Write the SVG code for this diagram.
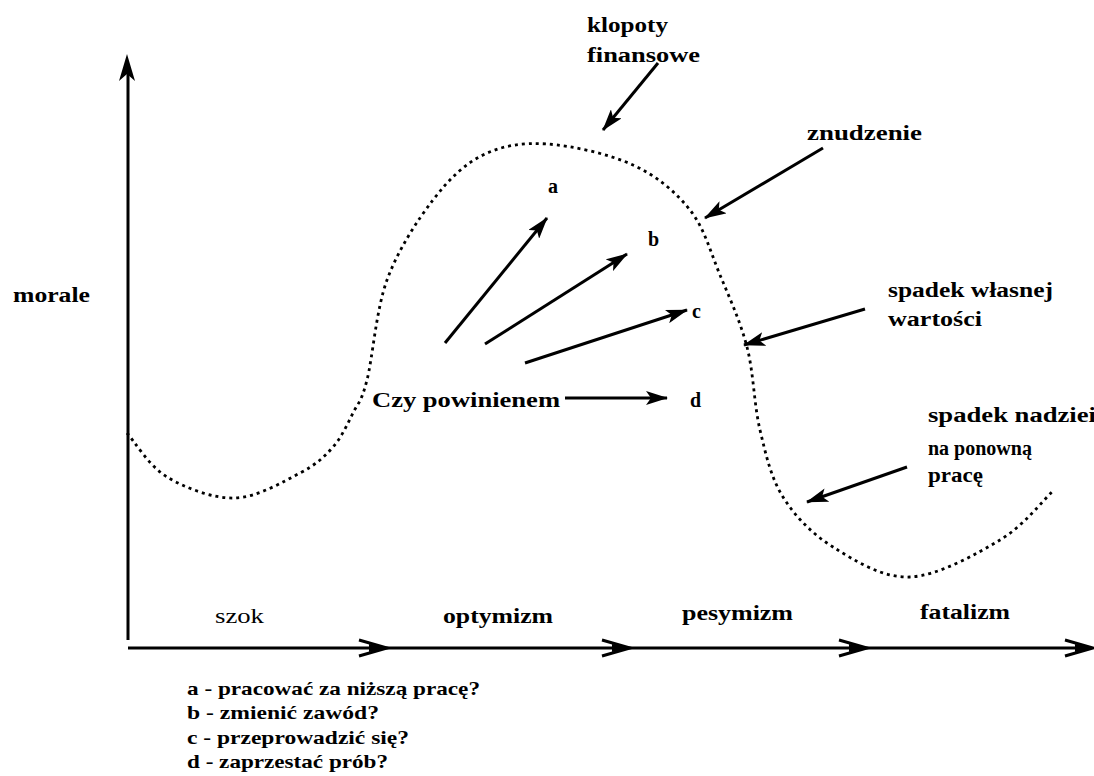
<svg xmlns="http://www.w3.org/2000/svg" width="1094" height="776" viewBox="0 0 1094 776">
<style>
.t{font-family:"Liberation Serif","DejaVu Serif",serif;font-weight:bold;fill:#000;font-size:20px}
.n{font-family:"Liberation Serif","DejaVu Serif",serif;font-weight:normal;fill:#000;font-size:20px}
.lg{font-family:"Liberation Serif","DejaVu Serif",serif;font-weight:bold;fill:#000;font-size:19px}
.ax{stroke:#000;stroke-width:3;fill:none}
.ar{stroke:#000;stroke-width:3;fill:none;marker-end:url(#ah)}
.curve{stroke:#000;stroke-width:2.8;fill:none;stroke-dasharray:3 4}
</style>
<defs>
<marker id="ah" markerUnits="userSpaceOnUse" markerWidth="22" markerHeight="14" refX="21" refY="7" orient="auto">
<path d="M0,0 L22,7 L0,14 L5,7 Z" fill="#000"/>
</marker>
<g id="chev">
<path d="M-28,-8 L0,0 L-28,8" stroke="#000" stroke-width="3" fill="none"/>
<path d="M-18,-4 L0,0 L-18,4 Z" fill="#000"/>
</g>
</defs>
<rect width="1094" height="776" fill="#fff"/>

<g id="axes">
<line class="ax" x1="128" y1="72" x2="128" y2="640" stroke-width="3.5"/>
<path d="M127,54 L135,81 L127,74 L119,81 Z" fill="#000"/>
<line class="ax" x1="128" y1="648" x2="1090" y2="648"/>
<use href="#chev" x="387" y="648"/>
<use href="#chev" x="630" y="648"/>
<use href="#chev" x="867" y="648"/>
<use href="#chev" x="1093" y="648"/>
</g>

<g id="curve">
<path class="curve" d="M127,433 C133.7,440.3 149,466.2 167,477 C185,487.8 212.8,498.7 235,498 C257.2,497.3 283.7,481.5 300,473 C316.3,464.5 324.2,457 333,447 C341.8,437 347.3,424.2 353,413 C358.7,401.8 361.3,402.2 367,380 C372.7,357.8 376,310 387,280 C398,250 417,220.8 433,200 C449,179.2 464,164.3 483,155 C502,145.7 522,142.3 547,144 C572,145.7 609.2,154 633,165 C656.8,176 675.5,191.7 690,210 C704.5,228.3 710.5,252.2 720,275 C729.5,297.8 740.3,321.2 747,347 C753.7,372.8 754,405 760,430 C766,455 770.8,477.5 783,497 C795.2,516.5 811.8,533.7 833,547 C854.2,560.3 882.2,578.2 910,577 C937.8,575.8 976.3,554.2 1000,540 C1023.7,525.8 1043.3,500 1052,492"/>
</g>

<g id="connectors">
<line class="ar" x1="658" y1="63" x2="603" y2="130"/>
<line class="ar" x1="823" y1="148" x2="705" y2="218"/>
<line class="ar" x1="865" y1="309" x2="744" y2="345"/>
<line class="ar" x1="907" y1="467" x2="807" y2="502"/>
<line class="ar" x1="445" y1="343" x2="547" y2="218"/>
<line class="ar" x1="485" y1="344" x2="627" y2="254"/>
<line class="ar" x1="525" y1="363" x2="687" y2="310"/>
<line class="ar" x1="565" y1="398" x2="667" y2="398" stroke-width="2.5"/>
</g>

<g id="label-klopoty">
<text class="t" x="587" y="32" textLength="81" lengthAdjust="spacingAndGlyphs">klopoty</text>
<text class="t" x="587" y="62" textLength="113" lengthAdjust="spacingAndGlyphs">finansowe</text>
</g>
<g id="label-znudzenie"><text class="t" x="807" y="140" textLength="115" lengthAdjust="spacingAndGlyphs">znudzenie</text></g>
<g id="label-wartosci">
<text class="t" x="888" y="297" textLength="165" lengthAdjust="spacingAndGlyphs">spadek własnej</text>
<text class="t" x="888" y="326" textLength="94" lengthAdjust="spacingAndGlyphs">wartości</text>
</g>
<g id="label-nadziei">
<text class="t" x="928" y="422" textLength="168" lengthAdjust="spacingAndGlyphs">spadek nadziei</text>
<text class="t" x="928" y="455">na ponowną</text>
<text class="t" x="928" y="482" textLength="55" lengthAdjust="spacingAndGlyphs">pracę</text>
</g>
<g id="label-morale"><text class="t" x="13" y="302" textLength="77" lengthAdjust="spacingAndGlyphs">morale</text></g>
<g id="label-question"><text class="t" x="372" y="407" font-size="22" textLength="188" lengthAdjust="spacingAndGlyphs">Czy powinienem</text></g>
<g id="label-a"><text class="t" x="548" y="193">a</text></g>
<g id="label-b"><text class="t" x="648" y="246">b</text></g>
<g id="label-c"><text class="t" x="692" y="318">c</text></g>
<g id="label-d"><text class="t" x="690" y="407">d</text></g>

<g id="phase-labels">
<text class="n" x="215" y="623" textLength="49" lengthAdjust="spacingAndGlyphs">szok</text>
<text class="t" x="443" y="623" textLength="110" lengthAdjust="spacingAndGlyphs">optymizm</text>
<text class="t" x="682" y="620" textLength="111" lengthAdjust="spacingAndGlyphs">pesymizm</text>
<text class="t" x="920" y="619" textLength="90" lengthAdjust="spacingAndGlyphs">fatalizm</text>
</g>

<g id="legend">
<text class="lg" x="187" y="695" textLength="293" lengthAdjust="spacingAndGlyphs">a - pracować za niższą pracę?</text>
<text class="lg" x="187" y="719" textLength="192" lengthAdjust="spacingAndGlyphs">b - zmienić zawód?</text>
<text class="lg" x="187" y="744" textLength="222" lengthAdjust="spacingAndGlyphs">c - przeprowadzić się?</text>
<text class="lg" x="187" y="768" textLength="201" lengthAdjust="spacingAndGlyphs">d - zaprzestać prób?</text>
</g>
</svg>
